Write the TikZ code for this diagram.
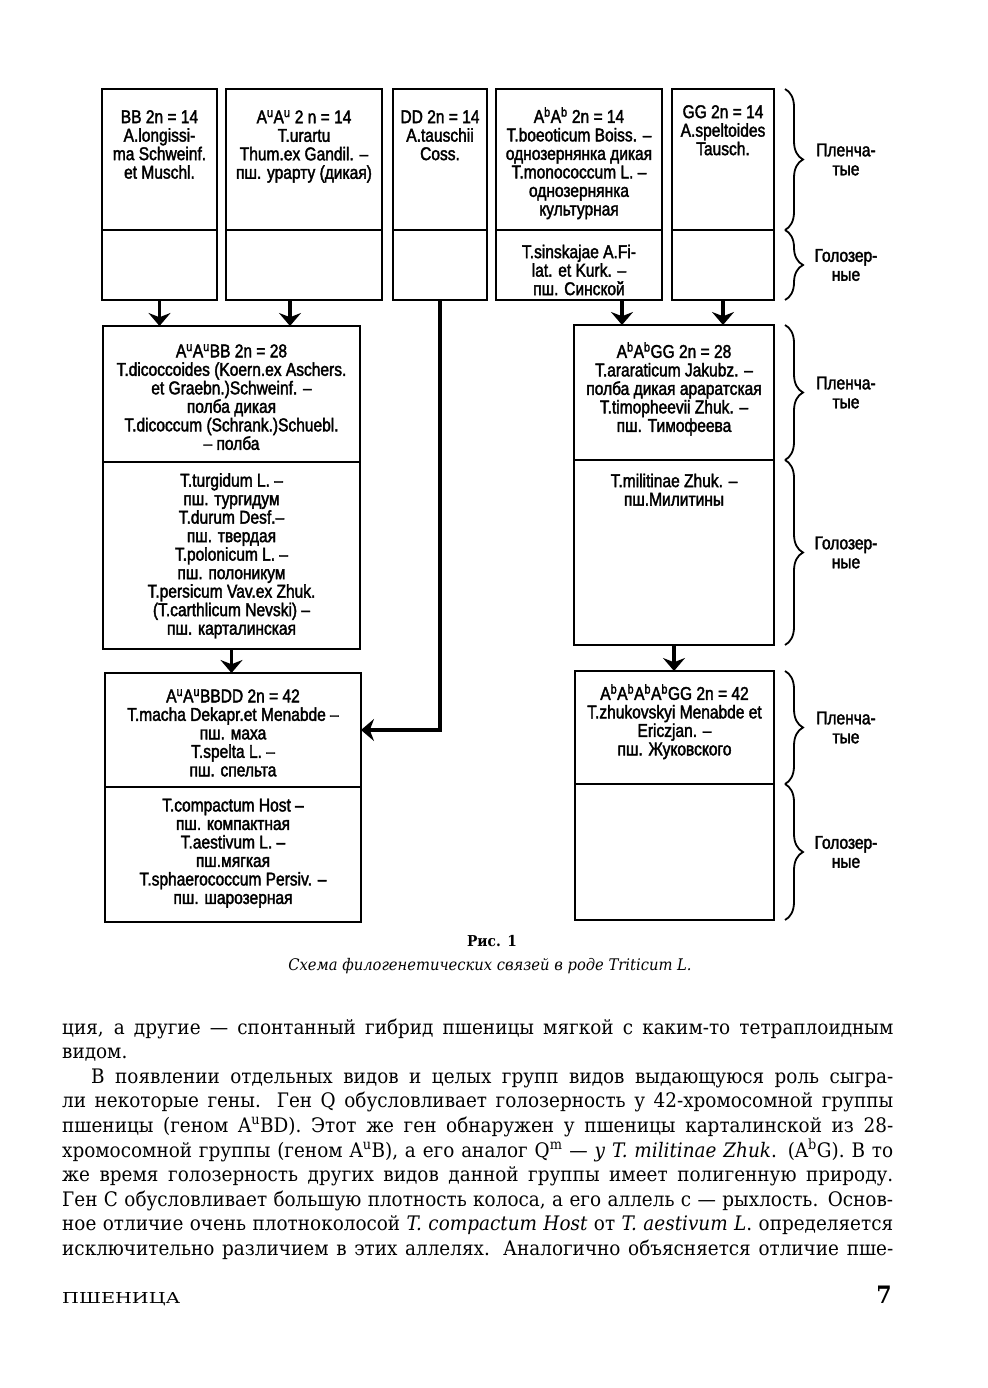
\documentclass[tikz,border=0pt]{standalone}
\usepackage{fontspec}
\setmainfont[FakeStretch=0.92]{DejaVu Serif}
\newfontfamily\boxfont[FakeStretch=0.84,FakeBold=2]{Liberation Sans}
\usepackage{tikz}
\usetikzlibrary{positioning,arrows.meta,decorations.pathreplacing}

\tikzset{
  >=Stealth,
  % --- boxes
  cell/.style = {draw, line width=1.8pt, inner sep=0pt, outer sep=0pt, anchor=north west},
  txt/.style  = {anchor=north, align=center, inner sep=0pt,
                 font=\boxfont\fontsize{18.5}{18.5}\selectfont},
  lbl/.style  = {align=center, inner sep=0pt, font=\boxfont\fontsize{18.5}{19}\selectfont},
  % --- edges
  e/.style    = {-{Stealth[width=22pt,length=13pt]}, line width=3.8pt},
  br/.style   = {decorate, decoration={brace, amplitude=18pt}, line width=1.8pt},
  % --- page text
  ln/.style   = {anchor=base west, inner sep=0pt, font=\fontsize{20}{24.6}\selectfont},
}

\begin{document}
\begin{tikzpicture}[x=1pt,y=-1pt]
  \useasboundingbox (0,0) rectangle (987,1388);
  % diploids
  \node[cell, minimum width=115, minimum height=141] (bbu) at (102,89) {};
  \node[cell, minimum width=115, minimum height=70, below=0pt of bbu] (bbl) {};
  \node[cell, minimum width=156, minimum height=141] (auu) at (226,89) {};
  \node[cell, minimum width=156, minimum height=70, below=0pt of auu] (aul) {};
  \node[cell, minimum width=94, minimum height=141] (ddu) at (393,89) {};
  \node[cell, minimum width=94, minimum height=70, below=0pt of ddu] (ddl) {};
  \node[cell, minimum width=166, minimum height=141] (abu) at (496,89) {};
  \node[cell, minimum width=166, minimum height=70, below=0pt of abu] (abl) {};
  \node[cell, minimum width=102, minimum height=141] (ggu) at (672,89) {};
  \node[cell, minimum width=102, minimum height=70, below=0pt of ggu] (ggl) {};
  \node[txt] (bbt) at ([yshift=-21]bbu.north) {BB 2n = 14\\A.longissi-\\ma Schweinf.\\et Muschl.};
  \node[txt] (aut) at ([yshift=-21]auu.north) {A\textsuperscript{u}A\textsuperscript{u} 2 n = 14\\T.urartu\\Thum.ex Gandil. –\\пш. урарту (дикая)};
  \node[txt] (ddt) at ([yshift=-21]ddu.north) {DD 2n = 14\\A.tauschii\\Coss.};
  \node[txt] (abt) at ([yshift=-18]abu.north) {A\textsuperscript{b}A\textsuperscript{b} 2n = 14\\T.boeoticum Boiss. –\\однозернянка дикая\\T.monococcum L. –\\однозернянка\\культурная};
  \node[txt] (abn) at ([yshift=-14.5]abl.north) {T.sinskajae A.Fi-\\lat. et Kurk. –\\пш. Синской};
  \node[txt] (ggt) at ([yshift=-16]ggu.north) {GG 2n = 14\\A.speltoides\\Tausch.};
  % tetraploids
  \node[cell, minimum width=257, minimum height=136] (dicu) at (103,326) {};
  \node[cell, minimum width=257, minimum height=187, below=0pt of dicu] (dicl) {};
  \node[cell, minimum width=200, minimum height=135] (timu) at (574,325) {};
  \node[cell, minimum width=200, minimum height=185, below=0pt of timu] (timl) {};
  \node[txt] (dict) at ([yshift=-18]dicu.north) {A\textsuperscript{u}A\textsuperscript{u}BB 2n = 28\\T.dicoccoides (Koern.ex Aschers.\\et Graebn.)Schweinf. –\\полба дикая\\T.dicoccum (Schrank.)Schuebl.\\– полба};
  \node[txt] (dicn) at ([yshift=-11]dicl.north) {T.turgidum L. –\\пш. тургидум\\T.durum Desf.–\\пш. твердая\\T.polonicum L. –\\пш. полоникум\\T.persicum Vav.ex Zhuk.\\(T.carthlicum Nevski) –\\пш. карталинская};
  \node[txt] (timt) at ([yshift=-17]timu.north) {A\textsuperscript{b}A\textsuperscript{b}GG 2n = 28\\T.araraticum Jakubz. –\\полба дикая араратская\\T.timopheevii Zhuk. –\\пш. Тимофеева};
  \node[txt] (timn) at ([yshift=-13.5]timl.north) {T.militinae Zhuk. –\\пш.Милитины};
  % hexaploids
  \node[cell, minimum width=256, minimum height=114] (aesu) at (105,673) {};
  \node[cell, minimum width=256, minimum height=135, below=0pt of aesu] (aesl) {};
  \node[cell, minimum width=199, minimum height=113] (zhuu) at (575,671) {};
  \node[cell, minimum width=199, minimum height=136, below=0pt of zhuu] (zhul) {};
  \node[txt] (aest) at ([yshift=-16]aesu.north) {A\textsuperscript{u}A\textsuperscript{u}BBDD 2n = 42\\T.macha Dekapr.et Menabde –\\пш. маха\\T.spelta L. –\\пш. спельта};
  \node[txt] (aesn) at ([yshift=-11.5]aesl.north) {T.compactum Host –\\пш. компактная\\T.aestivum L. –\\пш.мягкая\\T.sphaerococcum Persiv. –\\пш. шарозерная};
  \node[txt] (zhut) at ([yshift=-13]zhuu.north) {A\textsuperscript{b}A\textsuperscript{b}A\textsuperscript{b}A\textsuperscript{b}GG 2n = 42\\T.zhukovskyi Menabde et\\Ericzjan. –\\пш. Жуковского};

  \draw[e] (bbl.south) -- (bbl.south |- dicu.north);
  \draw[e] ([xshift=-14]aul.south) -- ([xshift=-14]aul.south |- dicu.north);
  \draw[e] ([xshift=43]abl.south) -- ([xshift=43]abl.south |- timu.north);
  \draw[e] (ggl.south) -- (ggl.south |- timu.north);
  \draw[e] (dicl.south) -- (dicl.south |- aesu.north);
  \draw[e] (timl.south) -- (timl.south |- zhuu.north);
  \draw[e] (ddl.south) |- (aesu.east);

  % hulled / naked
  \draw[br] ([xshift=11]ggu.north east) -- ([xshift=11]ggu.south east);
  \draw[br] ([xshift=11]ggl.north east) -- ([xshift=11]ggl.south east);
  \draw[br] ([xshift=11]timu.north east) -- ([xshift=11]timu.south east);
  \draw[br] ([xshift=11]timl.north east) -- ([xshift=11]timl.south east);
  \draw[br] ([xshift=11]zhuu.north east) -- ([xshift=11]zhuu.south east);
  \draw[br] ([xshift=11]zhul.north east) -- ([xshift=11]zhul.south east);
  \node[lbl] (h1) at ([xshift=72]ggu.east) {Пленча-\\тые};
  \node[lbl] (n1) at ([xshift=72]ggl.east) {Голозер-\\ные};
  \node[lbl] (h2) at ([xshift=72]timu.east) {Пленча-\\тые};
  \node[lbl] (n2) at ([xshift=72]timl.east) {Голозер-\\ные};
  \node[lbl] (h3) at ([xshift=72]zhuu.east) {Пленча-\\тые};
  \node[lbl] (n3) at ([xshift=72]zhul.east) {Голозер-\\ные};

  % caption
  \node[anchor=base, font=\bfseries\fontsize{15}{18}\selectfont] (fig) at (492,946) {Рис. 1};
  \node[anchor=base, font=\itshape\fontsize{16}{20}\selectfont] (cap) at (490,970) {Схема филогенетических связей в роде Triticum L.};

  % running text
  \node[ln] (l1) at (62,1034) {\makebox[831pt][s]{ция, а другие — спонтанный гибрид пшеницы мягкой с каким-то тетраплоидным}};
  \node[ln] (l2) at (62,1058.6) {видом.};
  \node[ln] (l3) at (91,1083.2) {\makebox[802pt][s]{В появлении отдельных видов и целых групп видов выдающуюся роль сыгра-}};
  \node[ln] (l4) at (62,1107.8) {\makebox[831pt][s]{ли некоторые гены. Ген Q обусловливает голозерность у 42-хромосомной группы}};
  \node[ln] (l5) at (62,1132.4) {\makebox[831pt][s]{пшеницы (геном A\textsuperscript{u}BD). Этот же ген обнаружен у пшеницы карталинской из 28-}};
  \node[ln] (l6) at (62,1157) {\makebox[831pt][s]{хромосомной группы (геном A\textsuperscript{u}B), а его аналог Q\textsuperscript{m} — \textit{у T. militinae Zhuk}. (A\textsuperscript{b}G). В то}};
  \node[ln] (l7) at (62,1181.6) {\makebox[831pt][s]{же время голозерность других видов данной группы имеет полигенную природу.}};
  \node[ln] (l8) at (62,1206.2) {\makebox[831pt][s]{Ген С обусловливает большую плотность колоса, а его аллель с — рыхлость. Основ-}};
  \node[ln] (l9) at (62,1230.8) {\makebox[831pt][s]{ное отличие очень плотноколосой \textit{T. compactum Host} от \textit{T. aestivum L}. определяется}};
  \node[ln] (l10) at (62,1255.4) {\makebox[831pt][s]{исключительно различием в этих аллелях. Аналогично объясняется отличие пше-}};

  % running foot
  \node[anchor=base west, inner sep=0pt] (rf) at (62,1303) {\resizebox{118pt}{11pt}{ПШЕНИЦА}};
  \node[anchor=base east, inner sep=0pt, font=\bfseries\fontsize{24}{28}\selectfont] (pg) at (892,1303) {7};
\end{tikzpicture}
\end{document}
